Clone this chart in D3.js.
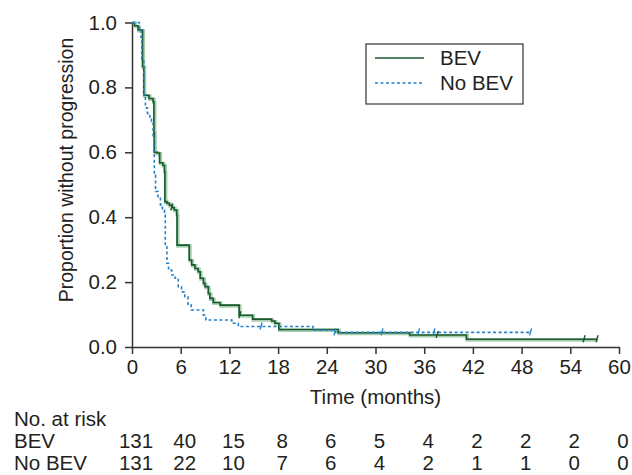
<!DOCTYPE html>
<html>
<head>
<meta charset="utf-8">
<script src="https://cdn.jsdelivr.net/npm/d3@7"></script>
<style>
  body { margin: 0; background: #fff; }
  svg text { font-family: "Liberation Sans", Arial, Helvetica, sans-serif; fill: #231f20; }
</style>
</head>
<body>
<svg id="chart"></svg>
<script>
// Kaplan-Meier steps (months, proportion)
const bevTime = [0, 0.3, 0.75, 1.3, 1.45, 2.1, 2.6, 2.7, 2.75, 3.1, 3.4, 3.8, 4.0, 4.05, 4.3, 4.6, 4.9, 5.2, 5.5, 5.55,
  7.05, 7.35, 7.75, 8.15, 8.4, 8.8, 9.0, 9.4, 9.6, 10.0, 10.85, 13.2, 14.85, 17.2, 17.6, 18.1, 25.4, 34.2, 41.2, 57.3];
const bevSurv = [1, 0.99, 0.977, 0.864, 0.776, 0.766, 0.756, 0.66, 0.6, 0.598, 0.568, 0.56, 0.54, 0.448, 0.443, 0.437, 0.43, 0.422, 0.407, 0.314,
  0.268, 0.253, 0.242, 0.232, 0.212, 0.196, 0.186, 0.165, 0.15, 0.137, 0.129, 0.098, 0.086, 0.08, 0.073, 0.054, 0.044, 0.037, 0.024, 0.024];
const bevCensor = [4.9, 13.3, 37.6, 55.7, 57.3];

const noBevTime = [0, 0.9, 1.1, 1.2, 1.45, 1.65, 1.9, 2.2, 2.4, 2.6, 2.7, 2.75, 2.9, 3.2, 3.5, 3.75, 4.0, 4.1, 4.3, 4.5, 4.9,
  5.3, 5.7, 6.1, 6.5, 6.9, 7.3, 8.8, 9.1, 12.3, 13.1, 22.3, 25.0, 49.1];
const noBevSurv = [1, 0.983, 0.955, 0.884, 0.776, 0.737, 0.72, 0.705, 0.695, 0.648, 0.597, 0.53, 0.479, 0.458, 0.438, 0.422, 0.407, 0.309, 0.258, 0.237, 0.222,
  0.212, 0.186, 0.17, 0.155, 0.129, 0.114, 0.098, 0.083, 0.073, 0.063, 0.052, 0.045, 0.045];
const noBevCensor = [15.9, 25.0, 30.8, 35.3, 37.2, 49.1];

// axes and risk table
const xTicks = [0, 6, 12, 18, 24, 30, 36, 42, 48, 54, 60];
const yTicks = [0, 0.2, 0.4, 0.6, 0.8, 1.0];
const riskGroups = ["BEV", "No BEV"];
const riskBev = [131, 40, 15, 8, 6, 5, 4, 2, 2, 2, 0];
const riskNoBev = [131, 22, 10, 7, 6, 4, 2, 1, 1, 0, 0];

const width = 632, height = 475;
const green = "#17592c", greenHalo = "#a9cfb1", blue = "#2481c9", ink = "#333";
const fontSize = 20.5;

const svg = d3.select("#chart").attr("width", width).attr("height", height)
  .style("font-size", fontSize + "px");

const x = d3.scaleLinear().domain([0, 60]).range([132, 619]);
const y = d3.scaleLinear().domain([0, 1]).range([347, 22.5]);

//axes
const gx = svg.append("g").attr("transform", `translate(0,${y(0)})`)
  .call(d3.axisBottom(x).tickValues(xTicks).tickSize(7).tickSizeOuter(0).tickPadding(5));
const gy = svg.append("g").attr("transform", `translate(${x(0)},0)`)
  .call(d3.axisLeft(y).tickValues(yTicks).tickFormat(d3.format(".1f")).tickSize(7).tickSizeOuter(0).tickPadding(8));
[gx, gy].forEach(g => {
  g.select(".domain").attr("stroke", ink).attr("stroke-width", 1.5);
  g.selectAll(".tick line").attr("stroke", ink).attr("stroke-width", 1.5);
  g.selectAll(".tick text").style("font-size", fontSize + "px").attr("fill", "#231f20");
});

svg.append("text")
  .attr("transform", "translate(66,170) rotate(-90)")
  .attr("text-anchor", "middle").attr("dy", "0.35em")
  .style("font-size", "19.5px")
  .text("Proportion without progression");

svg.append("text").attr("x", (x(0) + x(60)) / 2).attr("y", 397)
  .attr("text-anchor", "middle").attr("dy", "0.35em").text("Time (months)");

//curves
const km = (t, s) => t.map((d, i) => [d, s[i]]);
const line = d3.line().x(d => x(d[0])).y(d => y(d[1])).curve(d3.curveStepAfter);
const stepAt = (t, s, v) => s[d3.bisectRight(t, v) - 1];

const plot = svg.append("g").attr("fill", "none");
plot.append("path").attr("d", line(km(bevTime, bevSurv)))
  .attr("stroke", greenHalo).attr("stroke-width", 3.5).attr("transform", "translate(0.8,0.8)");
plot.append("path").attr("d", line(km(bevTime, bevSurv)))
  .attr("stroke", green).attr("stroke-width", 1.6);
plot.append("path").attr("d", line(km(noBevTime, noBevSurv)))
  .attr("stroke", blue).attr("stroke-width", 1.6).attr("stroke-dasharray", "3,2.5");

//censor marks
function censor(times, t, s, color) {
  plot.selectAll(null).data(times).join("line")
    .attr("x1", d => x(d) - 1).attr("x2", d => x(d) + 1)
    .attr("y1", d => y(stepAt(t, s, d)) + 3).attr("y2", d => y(stepAt(t, s, d)) - 4)
    .attr("stroke", color).attr("stroke-width", 1.4);
}
censor(bevCensor, bevTime, bevSurv, green);
censor(noBevCensor, noBevTime, noBevSurv, blue);

//legend
const leg = svg.append("g");
leg.append("rect").attr("x", 366).attr("y", 44).attr("width", 157).attr("height", 60)
  .attr("fill", "#fff").attr("stroke", ink).attr("stroke-width", 1.2);
const legItems = [
  { name: riskGroups[0], color: green, dash: null },
  { name: riskGroups[1], color: blue, dash: "3,2.5" }
];
legItems.forEach((d, i) => {
  const ly = 58 + i * 25;
  leg.append("line").attr("x1", 375).attr("x2", 424).attr("y1", ly).attr("y2", ly)
    .attr("stroke", d.color).attr("stroke-width", 1.6).attr("stroke-dasharray", d.dash);
  leg.append("text").attr("x", 440).attr("y", ly).attr("dy", "0.35em").text(d.name);
});

//number at risk
svg.append("text").attr("x", 14).attr("y", 419).attr("dy", "0.35em").text("No. at risk");
[riskBev, riskNoBev].forEach((row, i) => {
  const ry = 441 + i * 22;
  svg.append("text").attr("x", 14).attr("y", ry).attr("dy", "0.35em").text(riskGroups[i]);
  svg.append("g").selectAll("text").data(row).join("text")
    .attr("x", (d, j) => x(xTicks[j]) + 4).attr("y", ry).attr("dy", "0.35em")
    .attr("text-anchor", "middle").text(d => d);
});
</script>
</body>
</html>
